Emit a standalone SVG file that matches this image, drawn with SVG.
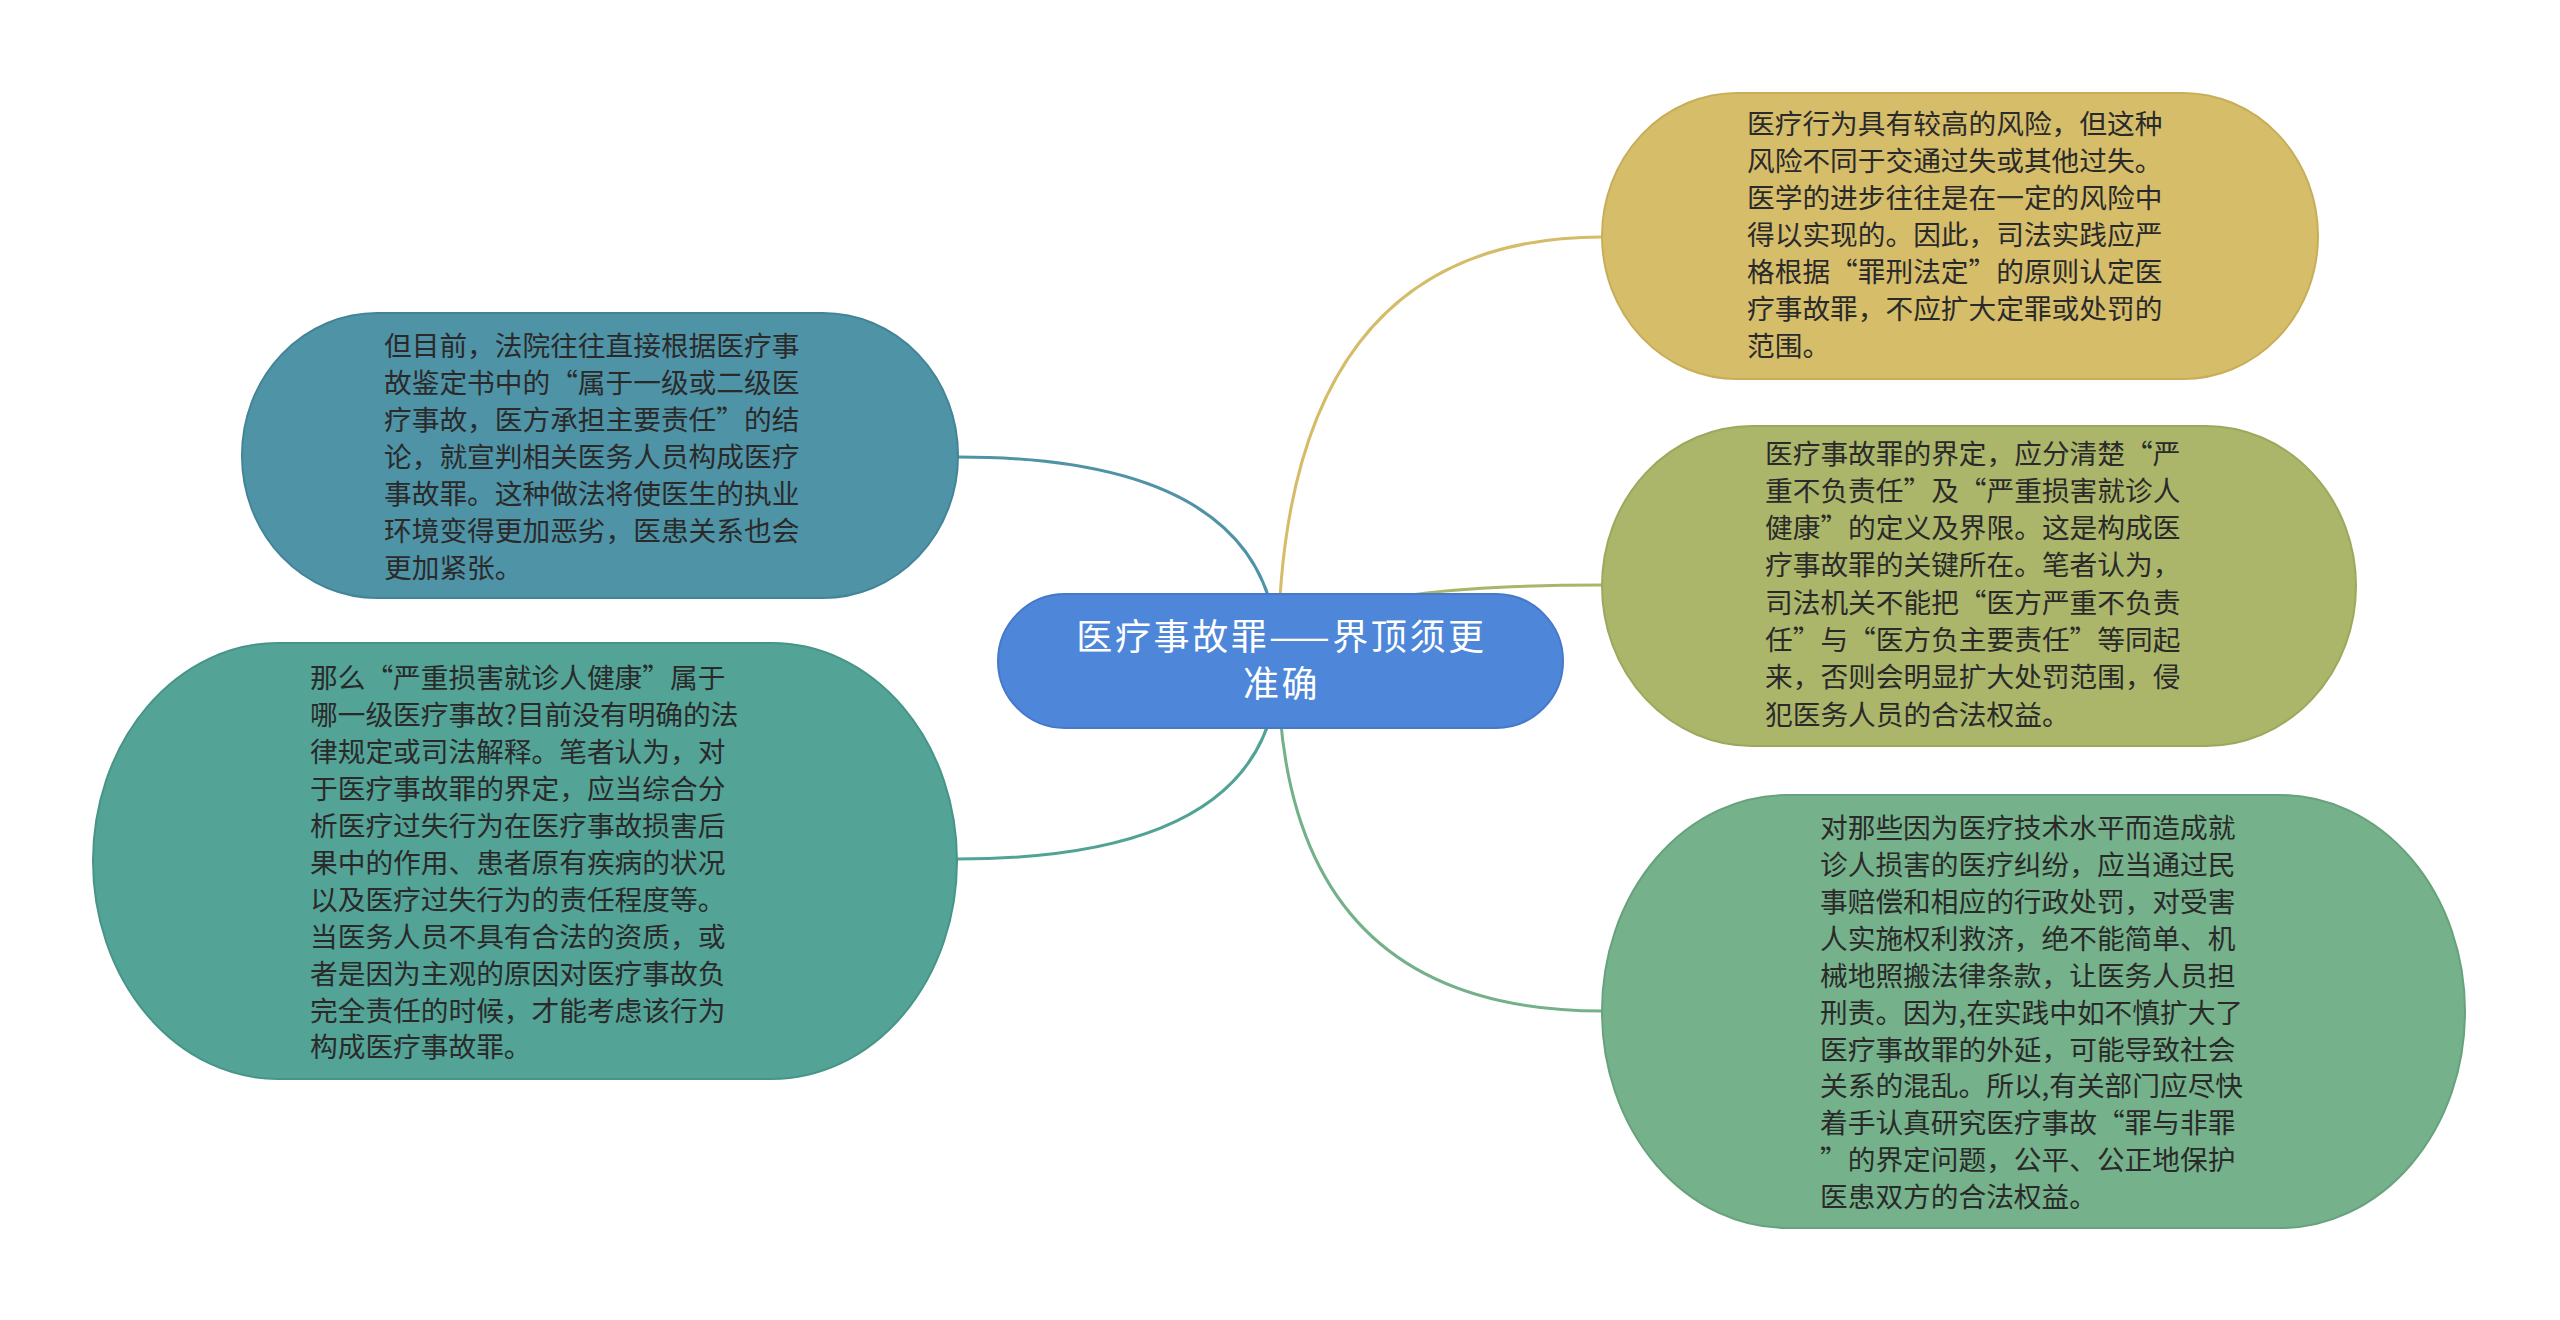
<svg xmlns="http://www.w3.org/2000/svg" width="2560" height="1320" viewBox="0 0 2560 1320">
<style>
.t{font-family:"Noto Sans CJK SC","Noto Sans",sans-serif;font-size:27.7px;fill:#2a2a2a}
.c{font-family:"Noto Sans CJK SC","Noto Sans",sans-serif;font-size:36px;letter-spacing:2.6px;fill:#ffffff;text-anchor:middle}
.ln{fill:none;stroke-width:3}
</style>
<rect width="2560" height="1320" fill="#ffffff"/>
<g id="connectors">
<path class="ln" stroke="#D4BC68" d="M1278,661 Q1278,237 1602,237"/>
<path class="ln" stroke="#AAB56A" d="M1278,661 Q1278,585 1602,585"/>
<path class="ln" stroke="#74B08A" d="M1278,661 Q1278,1011 1602,1011"/>
<path class="ln" stroke="#4F93A5" d="M1278,661 Q1278,457 958,457"/>
<path class="ln" stroke="#51A395" d="M1278,661 Q1278,859 957,859"/>
</g>
<g id="center">
<rect x="998" y="594" width="565" height="134" rx="67" ry="67" fill="#4E86D9" stroke="#4679C8" stroke-width="2"/>
<text class="c" x="1281.5" y="650">医疗事故罪——界顶须更</text>
<text class="c" x="1281.5" y="697">准确</text>
</g>
<g id="n1">
<rect x="1602" y="93" width="716" height="286" rx="135" ry="143" fill="#D5BD6A" stroke="#C8AE58" stroke-width="2"/>
<text class="t" x="1747" y="134">医疗行为具有较高的风险，但这种</text>
<text class="t" x="1747" y="171">风险不同于交通过失或其他过失。</text>
<text class="t" x="1747" y="208">医学的进步往往是在一定的风险中</text>
<text class="t" x="1747" y="245">得以实现的。因此，司法实践应严</text>
<text class="t" x="1747" y="282">格根据“罪刑法定”的原则认定医</text>
<text class="t" x="1747" y="319">疗事故罪，不应扩大定罪或处罚的</text>
<text class="t" x="1747" y="356">范围。</text>
</g>
<g id="n2">
<rect x="1602" y="426" width="754" height="320" rx="150" ry="160" fill="#ABB66B" stroke="#9CA85C" stroke-width="2"/>
<text class="t" x="1765" y="464">医疗事故罪的界定，应分清楚“严</text>
<text class="t" x="1765" y="501">重不负责任”及“严重损害就诊人</text>
<text class="t" x="1765" y="538">健康”的定义及界限。这是构成医</text>
<text class="t" x="1765" y="575">疗事故罪的关键所在。笔者认为，</text>
<text class="t" x="1765" y="613">司法机关不能把“医方严重不负责</text>
<text class="t" x="1765" y="650">任”与“医方负主要责任”等同起</text>
<text class="t" x="1765" y="687">来，否则会明显扩大处罚范围，侵</text>
<text class="t" x="1765" y="725">犯医务人员的合法权益。</text>
</g>
<g id="n3">
<rect x="1602" y="795" width="863" height="433" rx="185" ry="216" fill="#75B18A" stroke="#66A27B" stroke-width="2"/>
<text class="t" x="1820" y="838">对那些因为医疗技术水平而造成就</text>
<text class="t" x="1820" y="875">诊人损害的医疗纠纷，应当通过民</text>
<text class="t" x="1820" y="912">事赔偿和相应的行政处罚，对受害</text>
<text class="t" x="1820" y="949">人实施权利救济，绝不能简单、机</text>
<text class="t" x="1820" y="986">械地照搬法律条款，让医务人员担</text>
<text class="t" x="1820" y="1023">刑责。因为,在实践中如不慎扩大了</text>
<text class="t" x="1820" y="1060">医疗事故罪的外延，可能导致社会</text>
<text class="t" x="1820" y="1096">关系的混乱。所以,有关部门应尽快</text>
<text class="t" x="1820" y="1133">着手认真研究医疗事故“罪与非罪</text>
<text class="t" x="1820" y="1170">”的界定问题，公平、公正地保护</text>
<text class="t" x="1820" y="1207">医患双方的合法权益。</text>
</g>
<g id="n4">
<rect x="242" y="313" width="716" height="285" rx="135" ry="142" fill="#4F93A6" stroke="#438597" stroke-width="2"/>
<text class="t" x="384" y="356">但目前，法院往往直接根据医疗事</text>
<text class="t" x="384" y="393">故鉴定书中的“属于一级或二级医</text>
<text class="t" x="384" y="430">疗事故，医方承担主要责任”的结</text>
<text class="t" x="384" y="467">论，就宣判相关医务人员构成医疗</text>
<text class="t" x="384" y="504">事故罪。这种做法将使医生的执业</text>
<text class="t" x="384" y="541">环境变得更加恶劣，医患关系也会</text>
<text class="t" x="384" y="578">更加紧张。</text>
</g>
<g id="n5">
<rect x="93" y="643" width="864" height="436" rx="185" ry="218" fill="#53A396" stroke="#469587" stroke-width="2"/>
<text class="t" x="310" y="688">那么“严重损害就诊人健康”属于</text>
<text class="t" x="310" y="725">哪一级医疗事故?目前没有明确的法</text>
<text class="t" x="310" y="762">律规定或司法解释。笔者认为，对</text>
<text class="t" x="310" y="799">于医疗事故罪的界定，应当综合分</text>
<text class="t" x="310" y="836">析医疗过失行为在医疗事故损害后</text>
<text class="t" x="310" y="873">果中的作用、患者原有疾病的状况</text>
<text class="t" x="310" y="910">以及医疗过失行为的责任程度等。</text>
<text class="t" x="310" y="947">当医务人员不具有合法的资质，或</text>
<text class="t" x="310" y="984">者是因为主观的原因对医疗事故负</text>
<text class="t" x="310" y="1021">完全责任的时候，才能考虑该行为</text>
<text class="t" x="310" y="1057">构成医疗事故罪。</text>
</g>
</svg>
